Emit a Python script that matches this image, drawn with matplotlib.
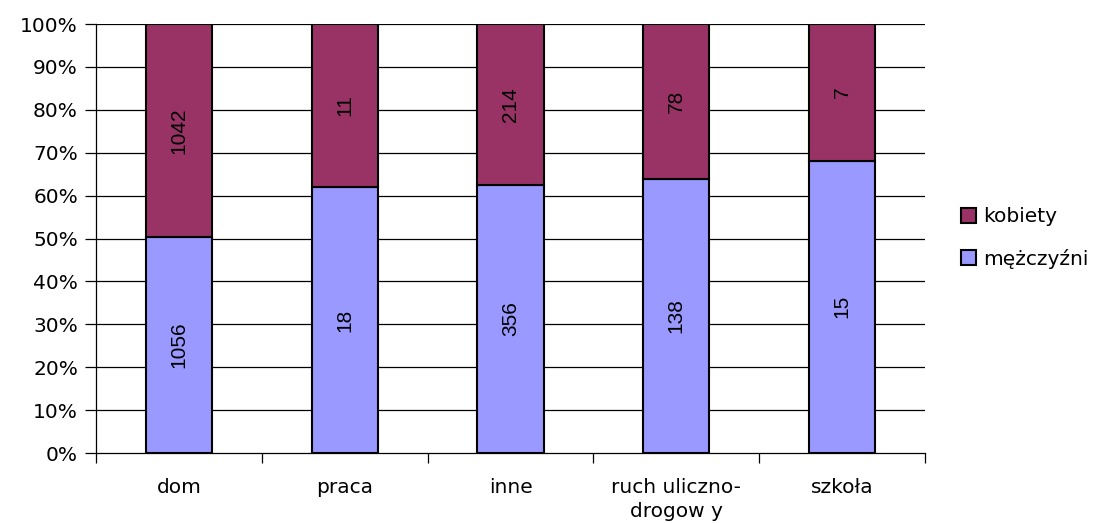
import matplotlib.pyplot as plt
import numpy as np

plt.rcParams['font.family'] = ['DejaVu Sans']

kategorie = ['dom', 'praca', 'inne', 'ruch uliczno-\ndrogow y', 'szkoła']
mezczyzni = [1056, 18, 356, 138, 15]
kobiety = [1042, 11, 214, 78, 7]

kolor_m = '#9999FF'
kolor_k = '#993366'

m = np.array(mezczyzni, dtype=float)
k = np.array(kobiety, dtype=float)
suma = m + k
m_pct = m / suma * 100
k_pct = k / suma * 100

fig = plt.figure(figsize=(11.18, 5.23), dpi=100)
ax = fig.add_axes([0.0859, 0.1338, 0.7415, 0.8203])

x = np.arange(len(kategorie))
szer = 0.4

# siatka pozioma
for yv in range(10, 101, 10):
    ax.axhline(yv, color='#000000', lw=0.9, zorder=0)

b1 = ax.bar(x, m_pct, szer, color=kolor_m, edgecolor='black', lw=1.5,
            label='mężczyźni', zorder=2)
b2 = ax.bar(x, k_pct, szer, bottom=m_pct, color=kolor_k, edgecolor='black',
            lw=1.5, label='kobiety', zorder=2)

# etykiety wartości w środku segmentów (czytane od dołu do góry)
for i in range(len(kategorie)):
    ax.text(x[i], m_pct[i] / 2, str(mezczyzni[i]), rotation=90,
            ha='center', va='center', fontsize=15, family='Liberation Sans',
            zorder=3)
    ax.text(x[i], m_pct[i] + k_pct[i] / 2, str(kobiety[i]), rotation=90,
            ha='center', va='center', fontsize=15, family='Liberation Sans',
            zorder=3)

ax.set_xlim(-0.5, len(kategorie) - 0.5)
ax.set_ylim(0, 100)
ax.set_yticks(range(0, 101, 10))
ax.set_yticklabels([f'{v}%' for v in range(0, 101, 10)], fontsize=14.5)
ax.set_xticks(x)
ax.set_xticklabels(kategorie, fontsize=14.5, linespacing=1.35)
ax.tick_params(axis='x', length=0, pad=18)
ax.tick_params(axis='y', length=8, width=0.9, direction='out', pad=5)
ax.set_xticks(np.arange(-0.5, len(kategorie), 1), minor=True)
ax.tick_params(axis='x', which='minor', length=7, width=0.9, direction='out')

ax.spines['top'].set_visible(False)
ax.spines['right'].set_visible(False)
ax.spines['left'].set_linewidth(0.9)
ax.spines['bottom'].set_linewidth(0.9)

leg = fig.legend(handles=[b2, b1], labels=['kobiety', 'mężczyźni'],
                 loc='center left', bbox_to_anchor=(0.843, 0.545),
                 frameon=False, fontsize=14.5, handlelength=0.75,
                 handleheight=0.75, handletextpad=0.35, labelspacing=1.1)

fig.savefig('out.png', dpi=100)
